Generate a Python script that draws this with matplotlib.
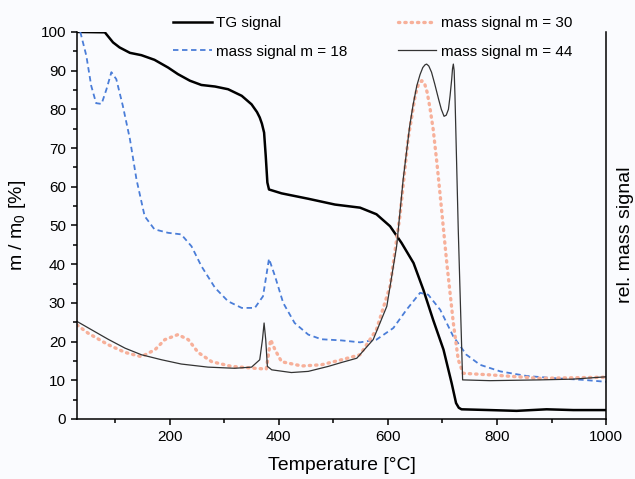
import matplotlib
matplotlib.use('Agg')
import matplotlib.pyplot as plt
from matplotlib.ticker import MultipleLocator

plt.rcParams['font.family'] = ['Liberation Sans', 'DejaVu Sans']
plt.rcParams['mathtext.default'] = 'regular'

# TG signal (mass in %)
tg_t = [30, 81, 96, 108, 127, 148, 172, 197, 215, 237, 258, 283, 307, 332, 350,
        360, 365, 369, 373, 376, 379, 382, 405, 454, 503, 549, 579, 604, 625, 647,
        665, 683, 702, 717, 725, 730, 735, 787, 836, 891, 940, 1000]
tg_m = [100, 99.9, 97.3, 96.0, 94.6, 94.0, 92.8, 90.8, 89.1, 87.4, 86.3, 85.9, 85.2,
        83.5, 81.3, 79.3, 77.9, 76.3, 74.0, 68.0, 61.1, 59.3, 58.3, 56.9, 55.4,
        54.6, 52.9, 49.8, 45.5, 40.3, 33.4, 25.6, 17.9, 9.2, 4.1, 2.9, 2.5, 2.3,
        2.1, 2.5, 2.3, 2.3]

# mass signal m = 18
m18_t = [36, 47, 56, 65, 75, 84, 93, 102, 114, 127, 139, 154, 172, 197, 221, 240,
         258, 283, 307, 332, 356, 371, 382, 393, 408, 429, 454, 478, 515, 549,
         579, 610, 634, 659, 674, 696, 720, 744, 769, 806, 855, 910, 959, 1000]
m18_v = [100, 93.9, 86.1, 81.6, 81.4, 85.2, 89.6, 87.8, 80.9, 72.3, 61.9, 52.4,
         49.0, 48.1, 47.7, 44.6, 39.5, 33.9, 30.4, 28.7, 28.7, 31.7, 41.4, 36.9,
         30.0, 24.8, 21.8, 20.6, 20.3, 19.8, 20.5, 23.5, 28.2, 32.6, 32.1, 28.2,
         21.3, 16.6, 14.0, 12.3, 11.1, 10.5, 10.1, 9.6]

# mass signal m = 30
m30_t = [30, 50, 87, 118, 148, 173, 191, 215, 234, 252, 277, 313, 356, 377, 385,
         393, 405, 442, 478, 515, 549, 579, 604, 622, 637, 650, 656, 662, 667,
         672, 677, 683, 690, 696, 708, 720, 729, 738, 787, 879, 1000]
m30_v = [24.3, 22.2, 19.2, 17.2, 16.1, 17.9, 20.5, 21.8, 20.5, 17.2, 14.8, 13.6,
         13.1, 12.9, 20.5, 17.9, 14.8, 13.7, 14.0, 15.3, 16.6, 23.1, 34.3, 52.4,
         72.3, 83.5, 86.5, 87.4, 86.8, 84.4, 80.5, 74.9, 66.0, 57.6, 40.3, 24.8,
         15.3, 11.8, 11.4, 10.5, 10.8]

# mass signal m = 44
m44_t = [30, 56, 87, 118, 148, 185, 221, 270, 319, 350, 365, 370, 373, 376, 379,
         387, 423, 454, 491, 515, 543, 573, 598, 616, 628, 640, 646, 653, 659, 664,
         668, 671, 675, 680, 686, 693, 698, 703, 707, 711, 714, 717, 718.5, 720,
         721.5, 723, 729, 737, 787, 879, 940, 1000]
m44_v = [25.2, 23.1, 20.6, 18.3, 16.6, 15.3, 14.2, 13.4, 13.1, 13.4, 15.3, 20.5,
         24.8, 20.5, 13.6, 12.7, 12.0, 12.3, 13.6, 14.6, 15.7, 20.5, 29.1, 44.6,
         61.9, 75.7, 81.0, 86.1, 89.0, 90.8, 91.5, 91.7, 91.2, 89.6, 86.5, 82.6,
         80.0, 78.2, 78.5, 80.0, 83.5, 87.8, 90.5, 91.7, 90.0, 83.5, 49.0, 10.1,
         9.9, 10.1, 10.3, 10.9]

bg = '#fafbfe'
fig = plt.figure(figsize=(6.35, 4.79), dpi=100, facecolor=bg)
ax = fig.add_axes([0.1213, 0.1253, 0.8331, 0.808], facecolor=bg)

l_tg, = ax.plot(tg_t, tg_m, color='black', lw=1.8, solid_joinstyle='round',
                label='TG signal')
l_18, = ax.plot(m18_t, m18_v, color='#4a7dd8', lw=1.3, ls=(0, (3, 2)),
                dash_joinstyle='round', label='mass signal m = 18')
l_30, = ax.plot(m30_t, m30_v, color='#f7b09a', lw=2.4, ls=(0, (0.4, 1.5)),
                dash_capstyle='round', label='mass signal m = 30')
l_44, = ax.plot(m44_t, m44_v, color='#333333', lw=0.9, solid_joinstyle='round',
                label='mass signal m = 44')

ax.set_xlim(30, 1000)
ax.set_ylim(0, 100)
ax.xaxis.set_major_locator(MultipleLocator(200))
ax.xaxis.set_minor_locator(MultipleLocator(100))
ax.yaxis.set_major_locator(MultipleLocator(10))
ax.yaxis.set_minor_locator(MultipleLocator(5))
ax.tick_params(which='both', direction='out', width=1.1, labelsize=11)
ax.tick_params(which='major', length=4.5)
ax.tick_params(which='minor', length=3)
ax.spines['top'].set_visible(False)
for s in ['left', 'bottom', 'right']:
    ax.spines[s].set_linewidth(1.1)

ax.set_xlabel('Temperature [°C]', fontsize=14)
ax.set_ylabel('m / m$_0$ [%]', fontsize=14)
ax.yaxis.set_label_coords(-0.093, 0.5)
ax.xaxis.set_label_coords(0.5, -0.097)
ax.text(1.036, 0.475, 'rel. mass signal', transform=ax.transAxes, rotation=90,
        ha='center', va='center', fontsize=14)

fig.legend(handles=[l_tg, l_18, l_30, l_44], ncol=2, frameon=False,
           loc='upper left', bbox_to_anchor=(0.261, 0.982), borderpad=0,
           fontsize=11, handlelength=2.5, handletextpad=0.3,
           columnspacing=3.3, labelspacing=0.95)

fig.savefig('out.png', dpi=100, facecolor=bg)
